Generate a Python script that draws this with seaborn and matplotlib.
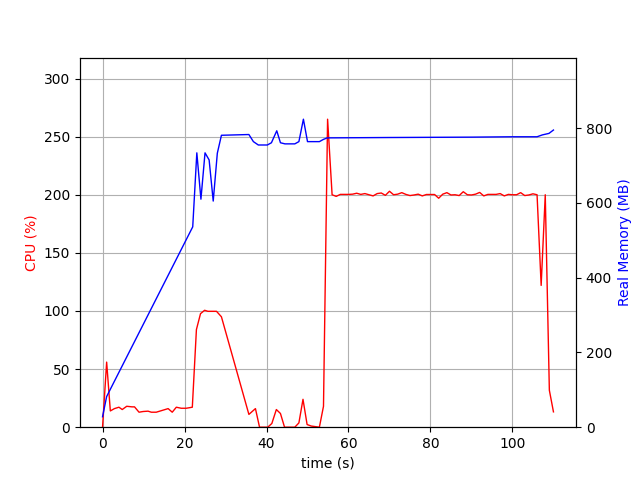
import matplotlib
matplotlib.use('Agg')
import matplotlib.pyplot as plt
import seaborn as sns

# cpu samples (time in s, cpu in %)
cpu_t = [0, 1, 1.9, 2.9, 4, 4.8, 5.9, 7.2, 7.8, 8.9, 9.9, 11.1, 11.9, 13.1,
         14.7, 16, 17, 18, 19.2, 20.4, 21.9, 22.9, 23.9, 24.9, 25.7, 27.8,
         29, 35.7, 37.3, 38.3, 40.3, 41.3, 42.4, 43.4, 44.4, 46.9, 47.9,
         48.9, 49.9, 50.9, 52.9, 53.9, 54.9,
         56, 57, 58, 59, 60, 61, 62, 63, 64, 65, 66, 67, 68, 69, 70, 71, 72,
         73, 74, 75, 76, 77, 78, 79, 80, 81, 82, 83, 84, 85, 86, 87, 88, 89,
         90, 91, 92, 93, 94, 95, 96, 97, 98, 99, 100, 101, 102, 103, 104,
         105, 106, 107, 108, 109, 110]
cpu = [0, 56, 14, 16, 17.2, 15.2, 18, 17.5, 17.5, 12.9, 13.5, 13.8, 12.9,
       12.9, 14.6, 16, 12.9, 17.2, 16.3, 16.3, 17.2, 84, 97.7, 100.6, 99.7,
       99.7, 95, 11, 16, 0, 0, 3.2, 15.2, 11.8, 0, 0, 3.7, 24, 2.3, 1, 0,
       18, 265,
       200, 198.6, 200.3, 200.3, 200.3, 200.5, 201.3, 200.3, 201, 200, 199,
       201, 201.5, 199.5, 203, 200, 200.5, 201.8, 200.3, 199.3, 199.8,
       200.5, 199, 200.2, 200.2, 200.2, 197, 200.5, 201.8, 199.8, 200,
       199.3, 202.6, 200, 199.8, 200.5, 202, 199, 200.3, 200.3, 200.3, 201,
       199, 200.3, 200, 200, 201.8, 199.3, 199.8, 200.8, 200, 122, 200,
       31.8, 13.2]

# memory samples (time in s, memory in MB)
mem_t = [0, 1, 22, 23, 24, 25, 26, 27, 28, 29, 35.7, 36.8, 38, 40.2, 41.2,
         42.5, 43.4, 44.5, 46.9, 47.9, 49, 50, 52.9, 53.9, 54.8, 70, 90, 100,
         106, 107.3, 108.9, 110]
mem = [28, 82, 536, 734, 610, 734, 715, 605, 733, 781, 783, 764, 755, 755,
       761, 793, 761, 758, 758, 764, 824, 764, 764, 770, 774, 775, 776, 777,
       777, 782, 786, 795]

fig, ax = plt.subplots(figsize=(6.4, 4.8), dpi=100)
sns.lineplot(x=cpu_t, y=cpu, ax=ax, color='red', linewidth=1)
ax.set_xlabel('time (s)')
ax.set_ylabel('CPU (%)', color='red')
ax.set_ylim(0, max(cpu) * 1.2)
ax.grid(True)

ax2 = ax.twinx()
sns.lineplot(x=mem_t, y=mem, ax=ax2, color='blue', linewidth=1)
ax2.set_ylabel('Real Memory (MB)', color='blue')
ax2.set_ylim(0, max(mem) * 1.2)

fig.savefig('out.png')
